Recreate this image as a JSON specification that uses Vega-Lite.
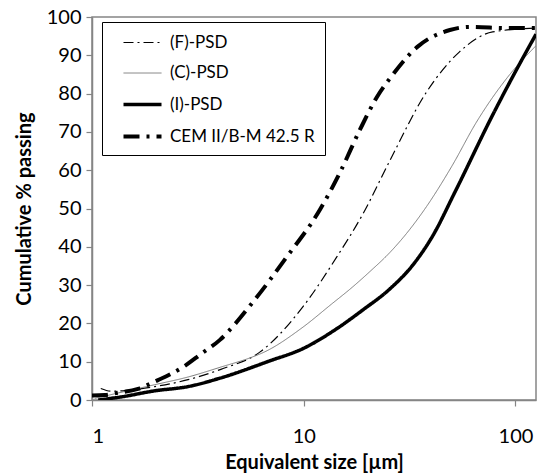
{
  "$schema": "https://vega.github.io/schema/vega-lite/v6.json",
  "width": 444,
  "height": 383,
  "autosize": {"type": "none"},
  "padding": {"left": 92, "top": 17, "right": 11, "bottom": 73},
  "background": "white",
  "config": {
    "font": "Lato",
    "view": {"stroke": "#858585", "strokeWidth": 1.5},
    "axis": {
      "grid": false,
      "domainColor": "#858585",
      "domainWidth": 1.5,
      "tickColor": "#858585",
      "tickWidth": 1.2,
      "tickSize": 6,
      "labelFont": "Lato",
      "labelFontSize": 20,
      "labelColor": "black",
      "titleFont": "Lato",
      "titleFontSize": 20,
      "titleFontWeight": "bold",
      "titleColor": "black"
    },
    "legend": {
      "orient": "none",
      "legendX": 10,
      "legendY": 5,
      "strokeColor": "black",
      "fillColor": "white",
      "padding": 10,
      "symbolType": "M0,0H4",
      "symbolSize": 361,
      "labelFont": "Lato",
      "labelFontSize": 17,
      "labelColor": "black",
      "labelOffset": 35,
      "rowPadding": 12,
      "labelExpr": "datum.label + '\u00a0\u00a0\u00a0\u00a0\u00a0\u00a0\u00a0\u00a0\u00a0'"
    }
  },
  "data": {
    "values": [
      {"s": "(F)-PSD", "x": 1.1, "y": 3.0},
      {"s": "(F)-PSD", "x": 1.23, "y": 2.3},
      {"s": "(F)-PSD", "x": 1.4, "y": 2.4},
      {"s": "(F)-PSD", "x": 1.98, "y": 3.5},
      {"s": "(F)-PSD", "x": 2.84, "y": 5.3},
      {"s": "(F)-PSD", "x": 4.06, "y": 8.0},
      {"s": "(F)-PSD", "x": 6.2, "y": 12.5},
      {"s": "(F)-PSD", "x": 9.9, "y": 24.3},
      {"s": "(F)-PSD", "x": 14.3, "y": 37.3},
      {"s": "(F)-PSD", "x": 19, "y": 48.5},
      {"s": "(F)-PSD", "x": 25.5, "y": 62.5},
      {"s": "(F)-PSD", "x": 38, "y": 80.4},
      {"s": "(F)-PSD", "x": 54.4, "y": 90.9},
      {"s": "(F)-PSD", "x": 78, "y": 96.1},
      {"s": "(F)-PSD", "x": 125, "y": 97.1},
      {"s": "(C)-PSD", "x": 1.03, "y": 0.4},
      {"s": "(C)-PSD", "x": 1.37, "y": 2.0},
      {"s": "(C)-PSD", "x": 1.98, "y": 4.0},
      {"s": "(C)-PSD", "x": 2.84, "y": 6.0},
      {"s": "(C)-PSD", "x": 4.06, "y": 8.6},
      {"s": "(C)-PSD", "x": 5.7, "y": 11.2},
      {"s": "(C)-PSD", "x": 6.5, "y": 12.5},
      {"s": "(C)-PSD", "x": 9.9, "y": 19},
      {"s": "(C)-PSD", "x": 13.5, "y": 25},
      {"s": "(C)-PSD", "x": 17, "y": 29.5},
      {"s": "(C)-PSD", "x": 20.5, "y": 33.5},
      {"s": "(C)-PSD", "x": 25.5, "y": 38.5},
      {"s": "(C)-PSD", "x": 30.6, "y": 43.5},
      {"s": "(C)-PSD", "x": 38, "y": 50.5},
      {"s": "(C)-PSD", "x": 50, "y": 61},
      {"s": "(C)-PSD", "x": 65.5, "y": 72.6},
      {"s": "(C)-PSD", "x": 93.7, "y": 84.9},
      {"s": "(C)-PSD", "x": 125, "y": 92.5},
      {"s": "(I)-PSD", "x": 1.07, "y": 0.0},
      {"s": "(I)-PSD", "x": 1.37, "y": 0.8},
      {"s": "(I)-PSD", "x": 1.98, "y": 2.4},
      {"s": "(I)-PSD", "x": 2.84, "y": 3.5},
      {"s": "(I)-PSD", "x": 4.02, "y": 5.7},
      {"s": "(I)-PSD", "x": 6.9, "y": 10.2},
      {"s": "(I)-PSD", "x": 9.9, "y": 13.4},
      {"s": "(I)-PSD", "x": 14.3, "y": 18.6},
      {"s": "(I)-PSD", "x": 19, "y": 23.5},
      {"s": "(I)-PSD", "x": 25.5, "y": 29},
      {"s": "(I)-PSD", "x": 32.7, "y": 35.2},
      {"s": "(I)-PSD", "x": 40.6, "y": 42.8},
      {"s": "(I)-PSD", "x": 52, "y": 54.5},
      {"s": "(I)-PSD", "x": 78, "y": 74.4},
      {"s": "(I)-PSD", "x": 104, "y": 87.5},
      {"s": "(I)-PSD", "x": 125, "y": 95.5},
      {"s": "CEM II/B-M 42.5 R", "x": 1.0, "y": 1.2},
      {"s": "CEM II/B-M 42.5 R", "x": 1.15, "y": 1.3},
      {"s": "CEM II/B-M 42.5 R", "x": 1.3, "y": 1.8},
      {"s": "CEM II/B-M 42.5 R", "x": 1.65, "y": 2.9},
      {"s": "CEM II/B-M 42.5 R", "x": 2.05, "y": 5.2},
      {"s": "CEM II/B-M 42.5 R", "x": 2.36, "y": 6.8},
      {"s": "CEM II/B-M 42.5 R", "x": 2.69, "y": 8.6},
      {"s": "CEM II/B-M 42.5 R", "x": 3.27, "y": 12},
      {"s": "CEM II/B-M 42.5 R", "x": 4.02, "y": 15.7},
      {"s": "CEM II/B-M 42.5 R", "x": 5.7, "y": 25.3},
      {"s": "CEM II/B-M 42.5 R", "x": 8.3, "y": 37.3},
      {"s": "CEM II/B-M 42.5 R", "x": 11.9, "y": 49.6},
      {"s": "CEM II/B-M 42.5 R", "x": 14.8, "y": 59.3},
      {"s": "CEM II/B-M 42.5 R", "x": 18.4, "y": 70.5},
      {"s": "CEM II/B-M 42.5 R", "x": 22.1, "y": 79},
      {"s": "CEM II/B-M 42.5 R", "x": 26.3, "y": 84.9},
      {"s": "CEM II/B-M 42.5 R", "x": 34.4, "y": 92.2},
      {"s": "CEM II/B-M 42.5 R", "x": 49, "y": 96.6},
      {"s": "CEM II/B-M 42.5 R", "x": 60.6, "y": 97.4},
      {"s": "CEM II/B-M 42.5 R", "x": 93.7, "y": 97.1},
      {"s": "CEM II/B-M 42.5 R", "x": 125, "y": 97.1}
    ]
  },
  "mark": {"type": "line", "clip": true, "interpolate": "monotone"},
  "encoding": {
    "x": {
      "field": "x",
      "type": "quantitative",
      "scale": {"type": "log", "domain": [1, 125], "nice": false},
      "axis": {"values": [1, 10, 100], "format": "d", "labelPadding": 20, "title": "Equivalent size [µm]", "titlePadding": 6}
    },
    "y": {
      "field": "y",
      "type": "quantitative",
      "scale": {"domain": [0, 100], "nice": false},
      "axis": {"values": [0, 10, 20, 30, 40, 50, 60, 70, 80, 90, 100], "labelPadding": 5, "title": "Cumulative % passing", "titlePadding": 12}
    },
    "color": {
      "field": "s",
      "type": "nominal",
      "title": null,
      "scale": {"domain": ["(F)-PSD", "(C)-PSD", "(I)-PSD", "CEM II/B-M 42.5 R"], "range": ["black", "#7a7a7a", "black", "black"]}
    },
    "strokeDash": {
      "field": "s",
      "type": "nominal",
      "title": null,
      "scale": {"domain": ["(F)-PSD", "(C)-PSD", "(I)-PSD", "CEM II/B-M 42.5 R"], "range": [[10, 4, 2, 4], [1, 0], [1, 0], [16, 7, 3, 7]]}
    },
    "strokeWidth": {
      "field": "s",
      "type": "ordinal",
      "title": null,
      "sort": ["(F)-PSD", "(C)-PSD", "(I)-PSD", "CEM II/B-M 42.5 R"],
      "scale": {"type": "ordinal", "domain": ["(F)-PSD", "(C)-PSD", "(I)-PSD", "CEM II/B-M 42.5 R"], "range": [1.2, 1, 3.5, 4]}
    }
  }
}
